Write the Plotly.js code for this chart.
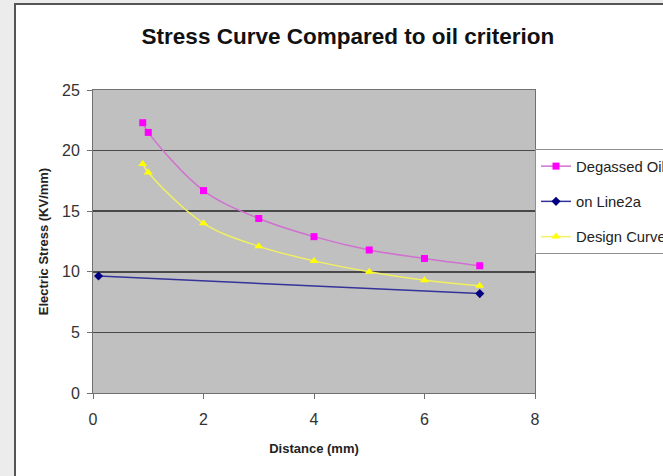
<!DOCTYPE html>
<html>
<head>
<meta charset="utf-8">
<script src="https://cdn.plot.ly/plotly-3.0.1.min.js"></script>
<style>
  html, body { margin: 0; padding: 0; background: #ececec; width: 663px; height: 476px; overflow: hidden; }
  #chart { position: absolute; left: 14px; top: 3px; width: 647px; height: 471px;
           border-left: 2px solid #555; border-top: 2px solid #555; background: #fff; }
</style>
</head>
<body>
<div id="chart"></div>
<script>
const degassedX = [0.9, 1, 2, 3, 4, 5, 6, 7];
const degassedY = [22.3, 21.5, 16.7, 14.4, 12.9, 11.8, 11.1, 10.5];
const line2aX = [0.1, 7];
const line2aY = [9.65, 8.2];
const designX = [0.9, 1, 2, 3, 4, 5, 6, 7];
const designY = [18.9, 18.2, 14.0, 12.1, 10.9, 10.0, 9.3, 8.85];
const xTicks = [0, 2, 4, 6, 8];
const yTicks = [0, 5, 10, 15, 20, 25];

const font = "Liberation Sans, Arial, sans-serif";

const traces = [
  { x: degassedX, y: degassedY, name: "Degassed Oil", type: "scatter", mode: "lines+markers",
    legendgroup: "a",
    line: { color: "#d070d0", width: 1.5, shape: "spline" },
    marker: { symbol: "square", size: 7, color: "#ff00ff" } },
  { x: line2aX, y: line2aY, name: "on Line2a", type: "scatter", mode: "lines+markers",
    legendgroup: "b",
    line: { color: "#333399", width: 1.5 },
    marker: { symbol: "diamond", size: 7, color: "#000080" } },
  { x: designX, y: designY, name: "Design Curve", type: "scatter", mode: "lines+markers",
    legendgroup: "c",
    line: { color: "#f0f060", width: 1.5, shape: "spline" },
    marker: { symbol: "triangle-up", size: 8, color: "#ffff00" } }
];

const layout = {
  width: 647, height: 471,
  margin: { l: 77, r: 128, t: 85, b: 83, autoexpand: false },
  paper_bgcolor: "#ffffff",
  plot_bgcolor: "#c0c0c0",
  font: { family: font, color: "#222" },
  title: { text: "<b>Stress Curve Compared to oil criterion</b>",
           font: { family: font, size: 22.5, color: "#111" },
           xref: "container", x: 0.513, xanchor: "center",
           yref: "container", y: 0.934, yanchor: "middle" },
  xaxis: { range: [0, 8], tickvals: xTicks, ticktext: xTicks.map(String),
           showgrid: false, zeroline: false, automargin: false,
           showline: true, linecolor: "#707070", linewidth: 1, mirror: true,
           ticks: "outside", ticklen: 5, tickcolor: "#707070",
           ticklabelstandoff: 7,
           tickfont: { family: font, size: 16, color: "#333" },
           title: { text: "<b>Distance (mm)</b>", font: { family: font, size: 13, color: "#222" }, standoff: 16 } },
  yaxis: { range: [0, 25], tickvals: yTicks, ticktext: yTicks.map(String),
           showgrid: true, gridcolor: "#484848", gridwidth: 1.5, zeroline: false, automargin: false,
           showline: true, linecolor: "#707070", linewidth: 1, mirror: true,
           ticks: "outside", ticklen: 5, tickcolor: "#707070",
           ticklabelstandoff: 4,
           tickfont: { family: font, size: 16, color: "#333" },
           title: { text: "<b>Electric Stress (KV/mm)</b>", font: { family: font, size: 13, color: "#222" }, standoff: 10 } },
  showlegend: true,
  legend: { x: 1.0, xanchor: "left", xref: "paper", y: 0.632, yanchor: "middle",
            bgcolor: "#ffffff", bordercolor: "#909090", borderwidth: 1,
            tracegroupgap: 13,
            font: { family: font, size: 14.8, color: "#222" } }
};

Plotly.newPlot("chart", traces, layout, { displayModeBar: false, staticPlot: true });
</script>
</body>
</html>
